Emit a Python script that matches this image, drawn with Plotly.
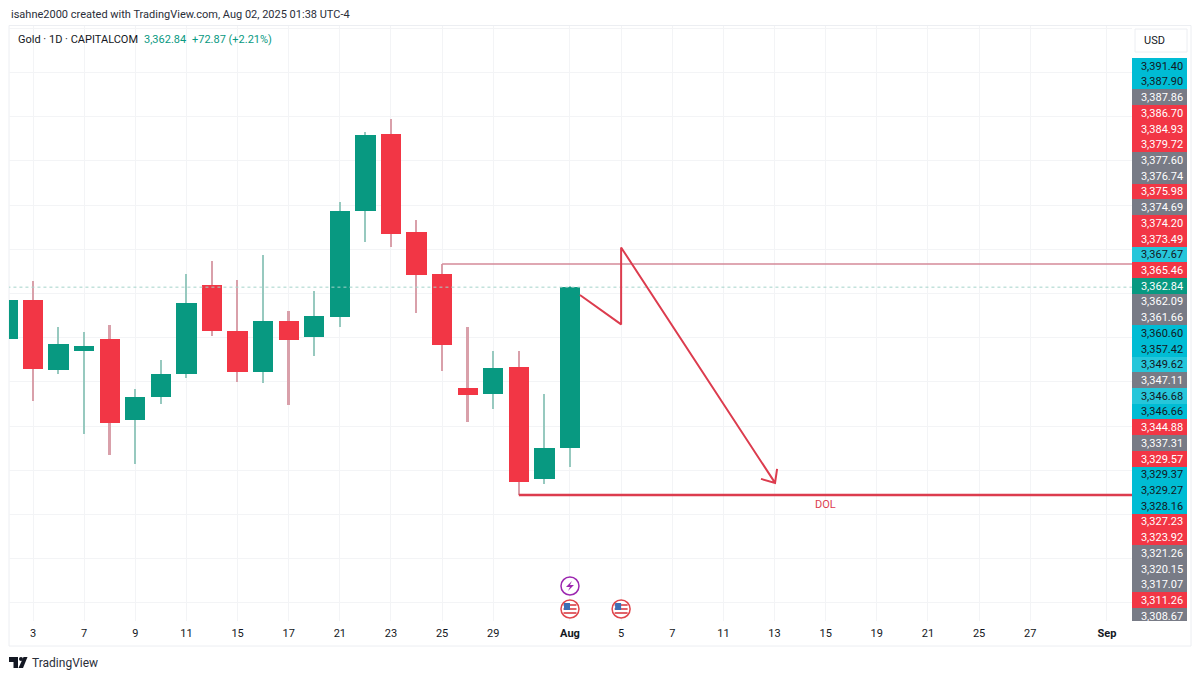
import plotly.graph_objects as go

# candles, one per trading day, x is the bar number (Jul 3 = 0)
bar_no = list(range(-1, 22))
opens = [3339.3, 3357.1, 3325.4, 3334.0, 3339.4, 3302.8, 3313.3, 3323.4, 3363.7, 3343.0, 3324.5, 3347.6,
         3340.3, 3349.5, 3397.2, 3432.2, 3387.8, 3369.0, 3317.2, 3314.5, 3326.9, 3275.9, 3289.97]
highs = [3357.1, 3365.7, 3345.0, 3342.6, 3345.6, 3316.7, 3329.9, 3368.7, 3374.8, 3366.1, 3377.4, 3351.9,
         3361.1, 3401.4, 3433.2, 3438.8, 3393.3, 3373.3, 3345.0, 3333.8, 3333.8, 3314.7, 3363.4]
lows = [3339.3, 3311.5, 3323.4, 3296.4, 3287.1, 3282.9, 3310.1, 3321.8, 3340.8, 3320.0, 3319.5, 3309.7,
        3331.7, 3344.8, 3383.3, 3381.2, 3351.3, 3324.8, 3301.7, 3307.7, 3268.8, 3273.8, 3281.4]
closes = [3357.1, 3325.7, 3337.0, 3336.1, 3301.4, 3313.3, 3323.6, 3355.6, 3343.2, 3324.5, 3347.6, 3338.8,
          3349.8, 3397.2, 3431.6, 3386.9, 3368.2, 3336.7, 3314.1, 3326.4, 3274.7, 3290.0, 3362.84]

tick_bars = [0, 2, 4, 6, 8, 10, 12, 14, 16, 18, 21, 23, 25, 27, 29, 31, 33, 35, 37, 39, 42]
tick_labels = ["3", "7", "9", "11", "15", "17", "21", "23", "25", "29", "<b>Aug</b>", "5", "7", "11", "13",
               "15", "19", "21", "25", "27", "<b>Sep</b>"]

# drawings on the chart
last_price = 3362.84
high_line_x = [16, 43]
high_line_y = [3373.3, 3373.3]
dol_line_x = [19, 43]
dol_line_y = [3268.8, 3268.8]
zigzag_x = [21.39, 23, 23, 29.02, 28.47, 29.02, 29.1]
zigzag_y = [3359.3, 3346.0, 3380.8, 3274.3, 3276.1, 3274.3, 3280.6]

# the stack of price labels on the right
price_labels = ["3,391.40", "3,387.90", "3,387.86", "3,386.70", "3,384.93", "3,379.72", "3,377.60", "3,376.74",
                "3,375.98", "3,374.69", "3,374.20", "3,373.49", "3,367.67", "3,365.46", "3,362.84", "3,362.09",
                "3,361.66", "3,360.60", "3,357.42", "3,349.62", "3,347.11", "3,346.68", "3,346.66", "3,344.88",
                "3,337.31", "3,329.57", "3,329.37", "3,329.27", "3,328.16", "3,327.23", "3,323.92", "3,321.26",
                "3,320.15", "3,317.07", "3,311.26", "3,308.67"]
label_kinds = ["c", "c", "g", "r", "r", "r", "g", "g", "r", "g", "r", "r", "l", "r", "t", "g", "g", "c", "c", "l",
               "g", "l", "c", "r", "g", "r", "c", "c", "c", "r", "r", "g", "g", "g", "r", "g"]
kind_fill = {"c": "#00bcd4", "l": "#26c6da", "g": "#787b86", "r": "#f23645", "t": "#089981"}
kind_text = {"c": "#131722", "l": "#131722", "g": "#ffffff", "r": "#ffffff", "t": "#ffffff"}

W = 1200
H = 679
GREEN = "#089981"
RED = "#f23645"
WICK_GREEN = "#97c9bf"
WICK_RED = "#d9a0aa"
DRAW_RED = "#dc3c4e"
FONT = "Roboto"


def px(x):
    return x / W


def py(y):
    return 1 - y / H


fig = go.Figure()

# wicks first, then the bodies on top
is_up = [c >= o for o, c in zip(opens, closes)]
fig.add_trace(go.Bar(
    x=bar_no, base=lows, y=[h - l for h, l in zip(highs, lows)], width=0.065,
    marker=dict(color=[WICK_GREEN if u else WICK_RED for u in is_up], line=dict(width=0)),
    showlegend=False,
))
fig.add_trace(go.Bar(
    x=bar_no, base=[min(o, c) for o, c in zip(opens, closes)], y=[abs(c - o) for o, c in zip(opens, closes)],
    width=0.79,
    marker=dict(color=[GREEN if u else RED for u in is_up], line=dict(width=0)),
    showlegend=False,
))

fig.add_trace(go.Scatter(x=[-1, 43], y=[last_price, last_price], mode="lines",
                         line=dict(color="#a5d3ca", width=1, dash="dot"), showlegend=False))
fig.add_trace(go.Scatter(x=high_line_x, y=high_line_y, mode="lines",
                         line=dict(color="#d48a98", width=1.5), showlegend=False))
fig.add_trace(go.Scatter(x=dol_line_x, y=dol_line_y, mode="lines",
                         line=dict(color=DRAW_RED, width=2.5), showlegend=False))
fig.add_trace(go.Scatter(x=zigzag_x, y=zigzag_y, mode="lines",
                         line=dict(color=DRAW_RED, width=2), showlegend=False))

# price labels as a stack of bars so each row stays real text
fig.add_trace(go.Bar(
    x=[1] * len(price_labels), y=price_labels, orientation="h",
    text=price_labels, textposition="inside", insidetextanchor="middle", textangle=0,
    constraintext="none", cliponaxis=True,
    marker=dict(color=[kind_fill[k] for k in label_kinds], line=dict(width=0)),
    textfont=dict(family=FONT, size=11, color=[kind_text[k] for k in label_kinds]),
    showlegend=False, xaxis="x2", yaxis="y2",
))

shapes = [
    # outer frame
    dict(type="rect", xref="paper", yref="paper", x0=px(9), x1=px(1191), y0=py(646), y1=py(25.5),
         line=dict(color="#eceef2", width=1), layer="below"),
    # USD box
    dict(type="rect", xref="paper", yref="paper", x0=px(1135), x1=px(1187), y0=py(52), y1=py(29),
         line=dict(color="#eceef2", width=1), fillcolor="#ffffff"),
    # logo
    dict(type="path", xref="paper", yref="paper", fillcolor="#131722", line=dict(width=0),
         path=" ".join(f"{c} {px(a):.5f} {py(b):.5f}" for c, a, b in [
             ("M", 9, 657), ("L", 18, 657), ("L", 18, 668), ("L", 13.5, 668), ("L", 13.5, 662), ("L", 9, 662)]) + " Z"),
    dict(type="circle", xref="paper", yref="paper", x0=px(19), x1=px(23), y0=py(661), y1=py(657),
         fillcolor="#131722", line=dict(width=0)),
    dict(type="path", xref="paper", yref="paper", fillcolor="#131722", line=dict(width=0),
         path=" ".join(f"{c} {px(a):.5f} {py(b):.5f}" for c, a, b in [
             ("M", 23.5, 657), ("L", 27.5, 657), ("L", 23, 668), ("L", 18.5, 668)]) + " Z"),
]


def pixel_shape(kind, bar, cy, **kw):
    # small marks anchored on a bar, sized in pixels
    return dict(type=kind, xref="x", yref="paper", xsizemode="pixel", ysizemode="pixel",
                xanchor=bar, yanchor=py(cy), **kw)


# lightning event and the two flag events under the candles
shapes.append(pixel_shape("circle", 21, 586, x0=-9, x1=9, y0=-9, y1=9, fillcolor="#ffffff",
                          line=dict(color="#9c27b0", width=1.5)))
shapes.append(pixel_shape("path", 21, 586, path="M 2 5 L -4 -1 L 0 -1 L -2 -5 L 4 1 L 0 1 Z",
                          fillcolor="#9c27b0", line=dict(width=0)))
for bar in [21, 23]:
    shapes.append(pixel_shape("circle", bar, 609, x0=-9, x1=9, y0=-9, y1=9, fillcolor="#ffffff",
                              line=dict(color="#e0464c", width=1.5)))
    for dy in [-4, 0, 4]:
        shapes.append(pixel_shape("rect", bar, 609, x0=-6.5, x1=6.5, y0=dy - 1, y1=dy + 1,
                                  fillcolor="#e0646a", line=dict(width=0)))
    shapes.append(pixel_shape("rect", bar, 609, x0=-6, x1=0, y0=-1, y1=6, fillcolor="#3d6fb5", line=dict(width=0)))


def note(x, y, text, color="#131722", size=11, anchor="left"):
    return dict(xref="paper", yref="paper", x=px(x), y=py(y), text=text, showarrow=False, xanchor=anchor,
                yanchor="middle", font=dict(family=FONT, size=size, color=color), borderpad=0)


annotations = [
    note(10, 14, "isahne2000 created with TradingView.com, Aug 02, 2025 01:38 UTC-4", "#2a2e39"),
    note(17, 39.5, "Gold · 1D · CAPITALCOM", "#131722"),
    note(143, 39.5, "3,362.84", GREEN),
    note(191, 39.5, "+72.87 (+2.21%)", GREEN),
    note(1154, 40.5, "USD", "#131722", 11, "center"),
    note(825, 504, "DOL", DRAW_RED, 11, "center"),
    note(31, 663, "TradingView", "#2a2e39", 12),
]

fig.update_layout(
    width=W, height=H, margin=dict(l=0, r=0, t=0, b=0),
    paper_bgcolor="#ffffff", plot_bgcolor="#ffffff",
    font=dict(family=FONT, color="#131722", size=11),
    barmode="overlay", bargap=0, shapes=shapes, annotations=annotations, showlegend=False,
    xaxis=dict(domain=[px(9), px(1132)], range=[-0.939, 42.98], tickmode="array", tickvals=tick_bars,
               ticktext=tick_labels, showgrid=True, gridcolor="#f3f4f6", gridwidth=1, zeroline=False,
               ticks="", ticklabelstandoff=4, tickfont=dict(family=FONT, size=11, color="#131722")),
    yaxis=dict(domain=[py(621), py(26)], range=[3211.8, 3481.0], tick0=3360, dtick=20, showticklabels=False,
               showgrid=True, gridcolor="#f3f4f6", gridwidth=1, zeroline=False, ticks=""),
    xaxis2=dict(domain=[px(1132), px(1187)], range=[0, 55 / 60], anchor="y2", visible=False),
    yaxis2=dict(domain=[py(621), py(58.1)], anchor="x2", type="category", categoryorder="array",
                categoryarray=price_labels, range=[35.32, -0.5], visible=False),
)

fig.write_html("out.html", config=dict(displayModeBar=False), post_script="document.body.style.margin='0';")
